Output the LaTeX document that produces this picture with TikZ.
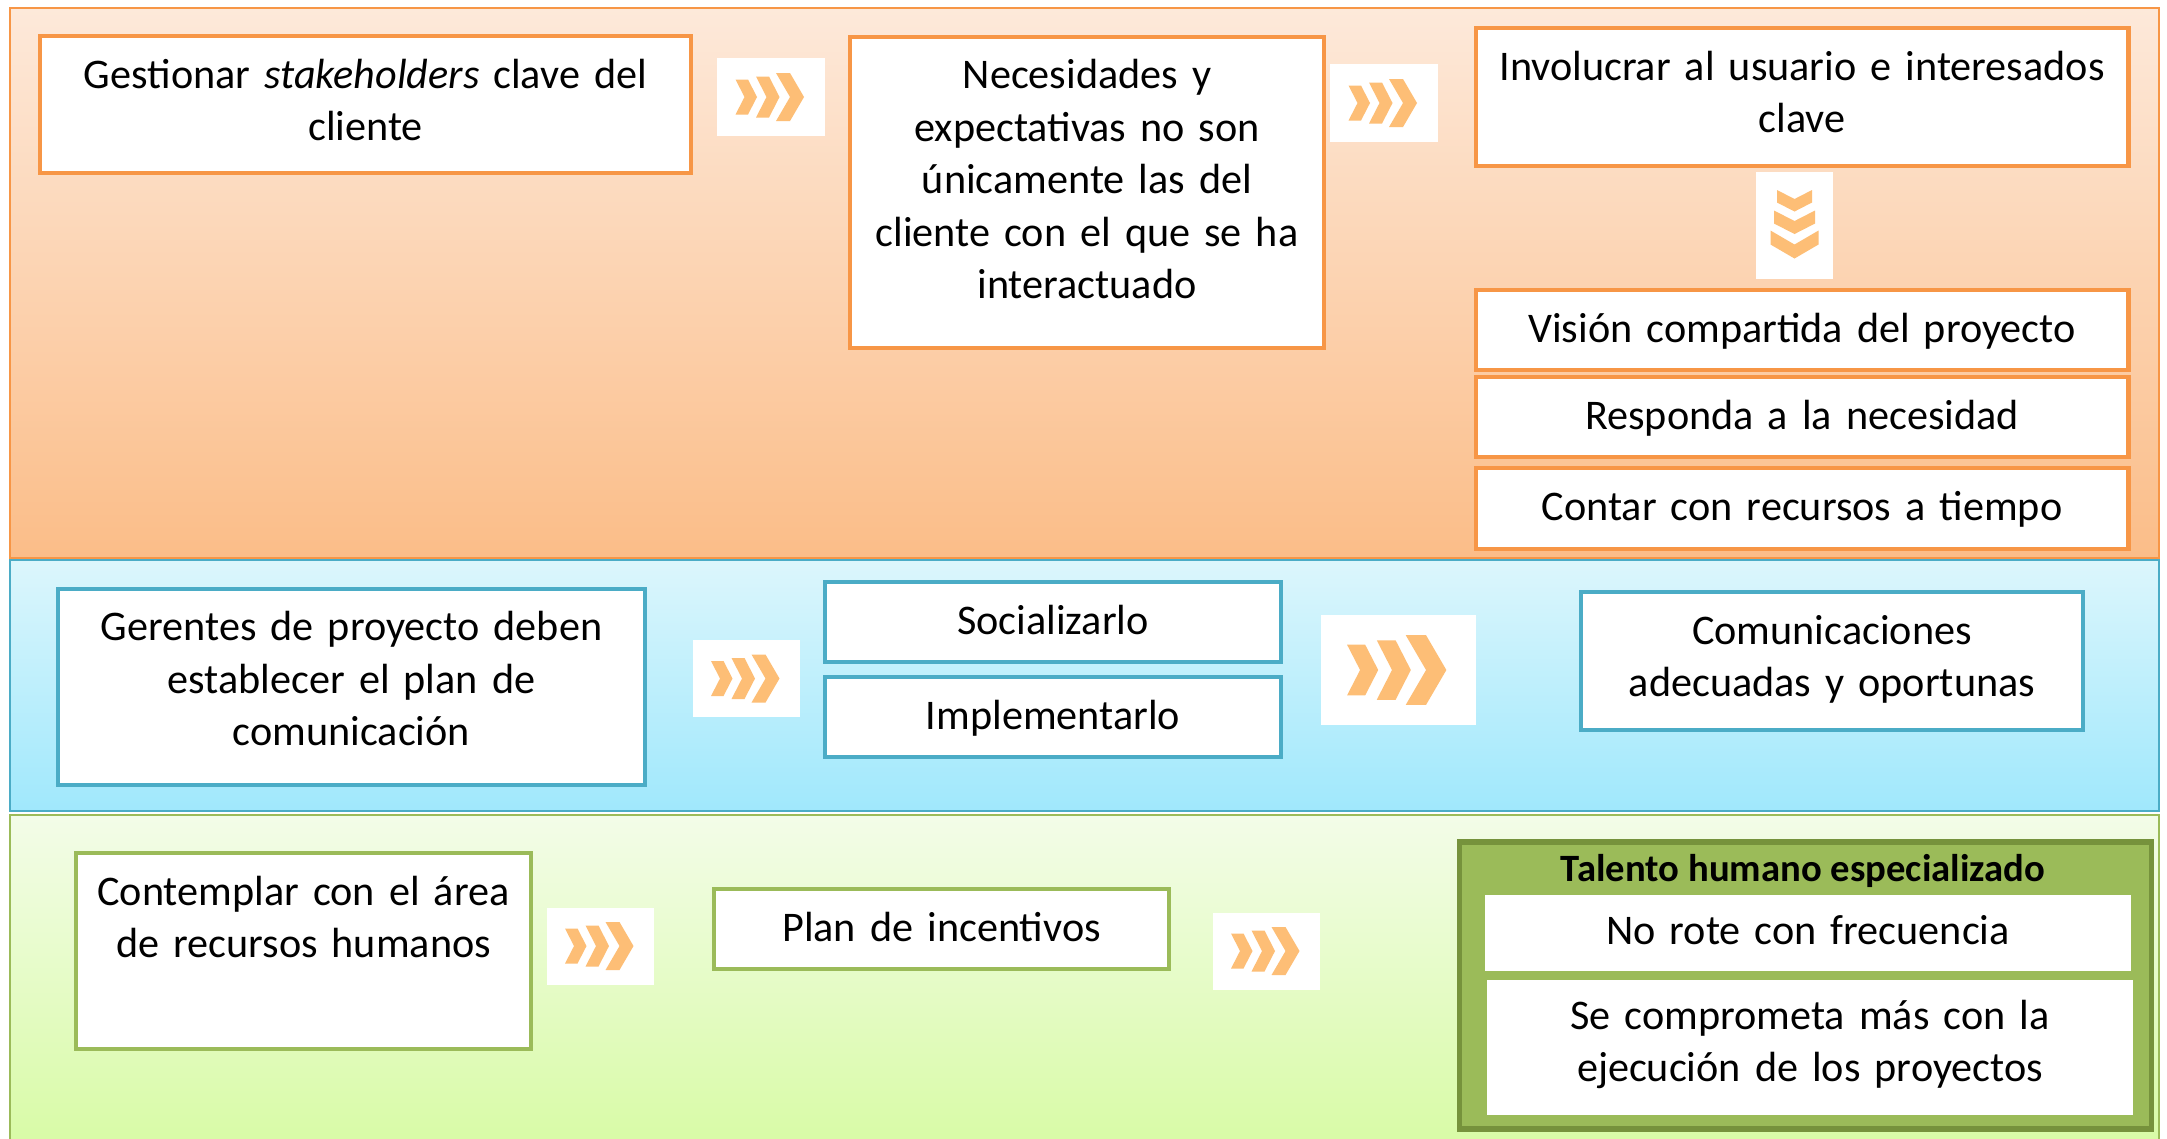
\documentclass[tikz,border=0pt]{standalone}
\usepackage{fontspec}
\setmainfont{Carlito}
\definecolor{orangeline}{HTML}{F79646}
\definecolor{orangetop}{HTML}{FDE9DA}
\definecolor{orangebottom}{HTML}{FBBD88}
\definecolor{blueline}{HTML}{4BACC6}
\definecolor{bluetop}{HTML}{DCF6FC}
\definecolor{bluebottom}{HTML}{A0E8FC}
\definecolor{greenline}{HTML}{9BBB59}
\definecolor{greentop}{HTML}{F3FCE8}
\definecolor{greenbottom}{HTML}{D8FBA6}
\definecolor{groupborder}{HTML}{76923C}
\definecolor{chevfill}{HTML}{FDBE76}

\begin{document}
\begin{tikzpicture}[
  x=0.01cm, y=-0.01cm,
  font=\fontsize{12}{14.9}\selectfont,
  band/.style={line width=0.6pt},
  box/.style={fill=white, line width=1.3pt, align=center, inner sep=0pt, text height=5.2mm},
  obox/.style={box, draw=orangeline},
  bbox/.style={box, draw=blueline},
  gbox/.style={box, draw=greenline},
  inbox/.style={box, draw=white, line width=0.6pt, text height=4.8mm},
  chevbox/.style={fill=white, inner sep=0pt, minimum width=10.7mm, minimum height=7.7mm},
  chevs/.pic={
    \foreach \xa/\arm/\dep/\hh in {-35.5/12.5/9/17.5, -15/13/10.5/20.5, 5/14/14/24}
      \fill[chevfill] (\xa,-\hh) -- ++(\arm,0) -- ++(\dep,\hh) -- ++(-\dep,\hh)
        -- ++(-\arm,0) -- ++(\dep,-\hh) -- cycle;
  }
]
\useasboundingbox (0,0) rectangle (2167,1138);
\clip (0,0) rectangle (2167,1138);

% bands
\shade[band, draw=orangeline, top color=orangetop, bottom color=orangebottom] (10,8) rectangle (2159,558);
\shade[band, draw=blueline, top color=bluetop, bottom color=bluebottom] (10,560) rectangle (2159,811);
\shade[band, draw=greenline, top color=greentop, bottom color=greenbottom] (10,815) rectangle (2159,1145);

% clientes
\node[obox, text width=65.1mm, text depth=8.5mm] (stake) at (365.5,104.5) {Gestionar \textit{stakeholders} clave del\\cliente};
\node[obox, text width=47.4mm, text depth=25.9mm] (needs) at (1087,192.5) {Necesidades y\\expectativas no son\\únicamente las del\\cliente con el que se ha\\interactuado};
\node[obox, text width=65.2mm, text depth=8.6mm] (involve) at (1802,97) {Involucrar al usuario e interesados\\clave};
\node[obox, text width=65.2mm, text depth=2.8mm] (vision) at (1802,330) {Visión compartida del proyecto};
\node[obox, text width=65.2mm, text depth=2.8mm] (answer) at (1802,417) {Responda a la necesidad};
\node[obox, text width=65.2mm, text depth=2.9mm] (budget) at (1802,508.5) {Contar con recursos a tiempo};

\node[chevbox] (c1) at (771,97) {};
\pic at (c1) {chevs};
\node[chevbox] (c2) at (1384,103) {};
\pic at (c2) {chevs};
\node[chevbox, minimum width=7.7mm, minimum height=10.7mm] (cd) at (1794.5,225.5) {};
\pic[rotate=-90] at (cd) {chevs};

% comunicacion
\node[bbox, text width=58.7mm, text depth=14.4mm] (managers) at (351.5,687) {Gerentes de proyecto deben\\establecer el plan de\\comunicación};
\node[bbox, text width=45.6mm, text depth=2.8mm] (social) at (1053,622) {Socializarlo};
\node[bbox, text width=45.6mm, text depth=2.8mm] (implem) at (1053,717) {Implementarlo};
\node[bbox, text width=50.2mm, text depth=8.6mm] (comms) at (1832,661) {Comunicaciones\\adecuadas y oportunas};

\node[chevbox] (c3) at (746.5,678.5) {};
\pic at (c3) {chevs};
\node[chevbox, minimum width=15.5mm, minimum height=11mm] (c4) at (1398.5,670) {};
\pic[scale=1.45] at (c4) {chevs};

% talento humano
\node[gbox, text width=45.5mm, text depth=14.4mm] (hr) at (303.5,951) {Contemplar con el área\\de recursos humanos};
\node[gbox, text width=45.5mm, text depth=2.8mm] (incent) at (941.5,929) {Plan de incentivos};
\node[draw=groupborder, fill=greenline, line width=1.5pt, inner sep=0pt,
  minimum width=69.1mm, minimum height=28.7mm] (talent) at (1805.5,985.5) {};
\node[font=\fontsize{11}{13}\selectfont\bfseries] (talenttitle) at (1803,871) {Talento humano especializado};
\node[inbox, text width=64.4mm, text depth=2.6mm] (rote) at (1808,933) {No rote con frecuencia};
\node[inbox, text width=64.4mm, text depth=8.5mm] (commit) at (1810,1047.5) {Se comprometa más con la\\ejecución de los proyectos};

\node[chevbox] (c5) at (600.5,946) {};
\pic at (c5) {chevs};
\node[chevbox] (c6) at (1266.5,951) {};
\pic at (c6) {chevs};
\end{tikzpicture}
\end{document}
